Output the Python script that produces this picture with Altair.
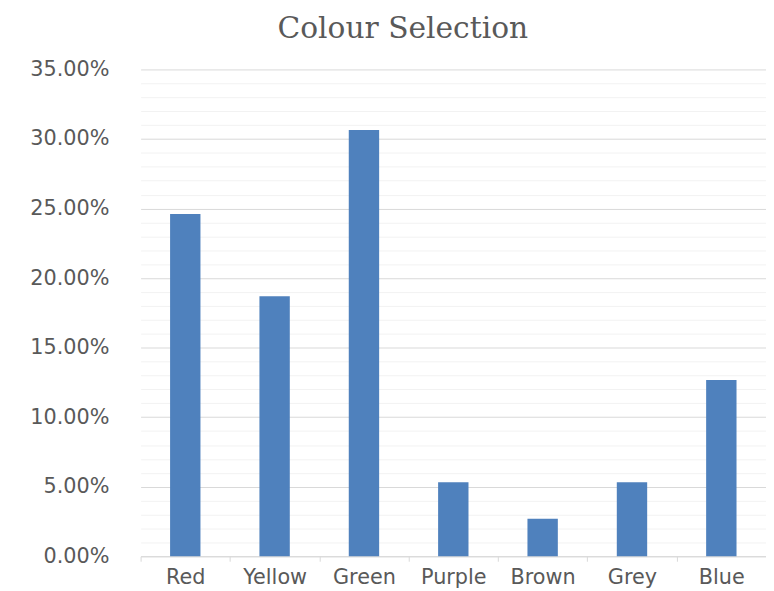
import altair as alt
import pandas as pd

colours = ["Red", "Yellow", "Green", "Purple", "Brown", "Grey", "Blue"]
shares = [0.246, 0.187, 0.3065, 0.0533, 0.027, 0.0533, 0.1267]

df = pd.DataFrame({"Colour": colours, "Share": shares})

y_ticks = [i / 100 for i in range(36)]
major_test = "round(datum.value*100) % 5 === 0"

chart = alt.Chart(df).mark_bar(
    color="#4f81bd", width=alt.RelativeBandSize(0.34)
).encode(
    x=alt.X("Colour:N", sort=colours,
            scale=alt.Scale(paddingInner=0, paddingOuter=0),
            axis=alt.Axis(title=None, labelAngle=0, tickBand="extent",
                          ticks=True, tickSize=5, tickColor="#d9d9d9",
                          domainColor="#d9d9d9", grid=False,
                          labelFont="DejaVu Sans", labelFontSize=21,
                          labelColor="#595959", labelPadding=6)),
    y=alt.Y("Share:Q", scale=alt.Scale(domain=[0, 0.35], nice=False),
            axis=alt.Axis(title=None, values=y_ticks, domain=False, ticks=False,
                          labelExpr=f"{major_test} ? format(datum.value, '.2%') : ''",
                          labelAlign="right", labelPadding=32,
                          labelFont="DejaVu Sans", labelFontSize=21,
                          labelColor="#595959",
                          gridColor={"condition": {"test": major_test, "value": "#d9d9d9"},
                                     "value": "#f2f2f2"})),
).properties(
    width=632, height=492,
    title=alt.TitleParams("Colour Selection", font="DejaVu Serif", fontSize=30,
                          fontWeight="normal", color="#595959", anchor="middle",
                          dx=-51, offset=15),
    autosize=alt.AutoSizeParams(type="none"),
    padding={"left": 134, "top": 59, "right": 0, "bottom": 32},
).configure_view(stroke=None)

chart.save("out.html", embed_options={"renderer": "svg", "actions": False})
